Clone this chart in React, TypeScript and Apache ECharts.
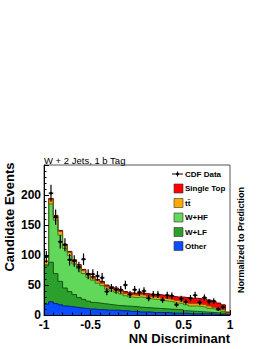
import React, { useEffect, useRef } from "react";
import * as echarts from "echarts";

// ---- binning ----
const X_MIN = -1;
const X_MAX = 1;
const N_BINS = 40;
const BIN_W = (X_MAX - X_MIN) / N_BINS;

// ---- process predictions per bin (stack order bottom -> top) ----
const other = [18, 22, 19, 17, 15, 14, 13, 12, 11, 10, 10, 9, 9, 8, 8, 8, 7, 7, 6, 6, 5, 5, 5, 4, 4, 4, 4, 3, 3, 3, 3, 2, 2, 2, 2, 2, 1.5, 1, 1, 0.5];
const wLF = [64, 66, 50, 39, 30, 25, 21, 17, 15, 13, 11, 11, 10, 10, 9, 8, 8.5, 8, 8.5, 8, 8, 7.5, 7, 7.5, 7, 6.5, 6, 6.5, 6, 5.5, 4, 4.5, 4, 3.5, 3, 2.5, 2.5, 2.5, 2, 0.5];
const wHF = [2, 97, 89, 77, 66, 60, 51, 48, 43, 40, 37, 33, 30, 25, 23, 22, 19.5, 17, 15.5, 15, 17, 16.5, 15, 14.5, 15, 13.5, 13, 12.5, 11, 10.5, 10, 8.5, 9, 8.5, 8, 6.5, 6, 4.5, 3, 1];
const ttbar = [5, 7, 6, 6, 5, 5, 5, 5, 5, 4, 4, 4, 4, 4, 4, 4, 4, 4, 4, 4, 4, 4, 4, 4, 4, 4, 4, 4, 4, 4, 4, 4, 4, 4, 4, 4, 3, 3, 3, 1];
const singleTop = [1, 2, 2, 2, 2, 2, 2, 2, 2, 2, 2, 2, 3, 3, 3, 3, 3, 3, 3, 3, 3, 3, 4, 4, 4, 5, 5, 5, 6, 7, 8, 9, 9, 9, 10, 10, 10, 9, 8, 2];

// ---- observed data per bin ----
const cdfData = [97, 203, 163, 122, 117, 92, 90, 80, 93, 68, 68, 65, 62, 39, 45, 42, 42, 50, 34, 42, 38, 40, 28, 34, 34, 25, 33, 32, 17, 27, 22, 28, 33, 21, 29, 22, 23, 10, 13, 0];

// ---- axis ticks ----
const xTicks = [-1, -0.5, 0, 0.5, 1];
const yTicks = [0, 50, 100, 150, 200, 250];

const processNames = ["Other", "W+LF", "W+HF", "t\u0074\u0304", "Single Top"];
const fills = ["#0a4cff", "#2ca02c", "#62d85a", "#ffaa00", "#ff0000"];
const outlines = ["#001f80", "#145214", "#2f7d2f", "#8a5200", "#600000"];
const layers = [other, wLF, wHF, ttbar, singleTop];

const FONT = "Liberation Sans, Arial, Helvetica, sans-serif";

function cumulativeLayers(ls: number[][]): number[][] {
  const out: number[][] = [];
  let run = new Array(N_BINS).fill(0);
  for (const l of ls) {
    run = run.map((v: number, i: number) => v + l[i]);
    out.push(run.slice());
  }
  return out;
}

function stepPoints(vals: number[]): number[][] {
  const pts = vals.map((v, i) => [X_MIN + i * BIN_W, v]);
  pts.push([X_MAX, vals[vals.length - 1]]);
  return pts;
}

export default function App() {
  const ref = useRef<HTMLDivElement>(null);

  useEffect(() => {
    if (!ref.current) return;
    const chart = echarts.init(ref.current, null, { renderer: "svg" });
    const cum = cumulativeLayers(layers);

    const areaSeries: any[] = [];
    for (let k = layers.length - 1; k >= 0; k--) {
      areaSeries.push({
        type: "line",
        name: processNames[k],
        data: stepPoints(cum[k]),
        step: "end",
        symbol: "none",
        showSymbol: false,
        silent: true,
        lineStyle: { color: outlines[k], width: 1 },
        areaStyle: { color: fills[k], opacity: 1 },
        itemStyle: { color: fills[k] },
      });
    }

    const dataPoints = cdfData
      .map((v, i) => [X_MIN + (i + 0.5) * BIN_W, v, Math.sqrt(v)])
      .filter((p) => p[1] > 0);

    const legendRowsY = [174, 188.5, 203, 217.5, 232, 246];
    const legendGraphics: any[] = [];
    legendGraphics.push(
      { type: "line", shape: { x1: 172, y1: legendRowsY[0], x2: 183, y2: legendRowsY[0] }, style: { stroke: "#000", lineWidth: 1 } },
      { type: "line", shape: { x1: 177.5, y1: legendRowsY[0] - 2.5, x2: 177.5, y2: legendRowsY[0] + 2.5 }, style: { stroke: "#000", lineWidth: 1 } },
      { type: "circle", shape: { cx: 177.5, cy: legendRowsY[0], r: 1.4 }, style: { fill: "#000" } },
      { type: "text", x: 185, y: legendRowsY[0], style: { text: "CDF Data", fontFamily: FONT, fontWeight: "bold", fontSize: 8, fill: "#000", verticalAlign: "middle", textVerticalAlign: "middle" } }
    );
    for (let j = 0; j < 5; j++) {
      const k = 4 - j;
      const yc = legendRowsY[j + 1];
      legendGraphics.push(
        { type: "rect", shape: { x: 174, y: yc - 4.5, width: 9, height: 9 }, style: { fill: fills[k], stroke: "#333", lineWidth: 0.6 } },
        { type: "text", x: 185, y: yc, style: { text: processNames[k], fontFamily: FONT, fontWeight: "bold", fontSize: 8, fill: "#000", verticalAlign: "middle", textVerticalAlign: "middle" } }
      );
    }

    const option: any = {
      animation: false,
      backgroundColor: "#fff",
      grid: {
        left: 44,
        right: 40,
        top: 165,
        bottom: 34,
        show: true,
        borderColor: "#555",
        borderWidth: 1,
        backgroundColor: "transparent",
        containLabel: false,
        outerBoundsMode: "none",
      },
      xAxis: {
        type: "value",
        min: xTicks[0],
        max: xTicks[xTicks.length - 1],
        interval: xTicks[1] - xTicks[0],
        axisLine: { show: true, onZero: false, lineStyle: { color: "#000", width: 1 } },
        axisTick: { show: true, inside: true, length: 5, lineStyle: { color: "#000", width: 1 } },
        minorTick: { show: true, splitNumber: 5, length: 2.5, lineStyle: { color: "#000", width: 1 } },
        splitLine: { show: false },
        axisLabel: {
          color: "#000",
          fontFamily: FONT,
          fontWeight: "bold",
          fontSize: 12,
          lineHeight: 12,
          margin: 4,
          showMinLabel: true,
          showMaxLabel: true,
          formatter: (v: number) => String(v),
        },
        z: 5,
      },
      yAxis: {
        type: "value",
        min: yTicks[0],
        max: yTicks[yTicks.length - 1],
        interval: yTicks[1] - yTicks[0],
        axisLine: { show: true, onZero: false, lineStyle: { color: "#000", width: 1 } },
        axisTick: { show: true, inside: true, length: 5, lineStyle: { color: "#000", width: 1 } },
        minorTick: { show: true, splitNumber: 5, length: 2.5, lineStyle: { color: "#000", width: 1 } },
        splitLine: { show: false },
        axisLabel: {
          color: "#000",
          fontFamily: FONT,
          fontWeight: "bold",
          fontSize: 12,
          lineHeight: 8,
          margin: 3,
          showMaxLabel: false,
        },
        z: 5,
      },
      series: [
        ...areaSeries,
        {
          type: "custom",
          name: "CDF Data",
          data: dataPoints,
          encode: { x: 0, y: 1 },
          z: 10,
          silent: true,
          renderItem: (_params: any, api: any) => {
            const x = api.value(0);
            const y = api.value(1);
            const e = api.value(2);
            const c = api.coord([x, y]);
            const t = api.coord([x, y + e]);
            const b = api.coord([x, y - e]);
            const l = api.coord([x - BIN_W / 2, y]);
            const r = api.coord([x + BIN_W / 2, y]);
            return {
              type: "group",
              children: [
                { type: "line", shape: { x1: t[0], y1: t[1], x2: b[0], y2: b[1] }, style: { stroke: "#000", lineWidth: 1.2 } },
                { type: "line", shape: { x1: l[0], y1: l[1], x2: r[0], y2: r[1] }, style: { stroke: "#000", lineWidth: 1.2 } },
                { type: "circle", shape: { cx: c[0], cy: c[1], r: 1.5 }, style: { fill: "#000" } },
              ],
            };
          },
        },
      ],
      graphic: [
        { type: "text", x: 44, y: 160, style: { text: "W + 2 Jets, 1 b Tag", fontFamily: FONT, fontSize: 9.5, fill: "#000", verticalAlign: "middle", textVerticalAlign: "middle" } },
        { type: "text", x: 9, y: 217, rotation: Math.PI / 2, style: { text: "Candidate Events", fontFamily: FONT, fontWeight: "bold", fontSize: 13, fill: "#000", align: "center", textAlign: "center", verticalAlign: "middle", textVerticalAlign: "middle" } },
        { type: "text", x: 230, y: 338, style: { text: "NN Discriminant", fontFamily: FONT, fontWeight: "bold", fontSize: 13, fill: "#000", align: "right", textAlign: "right", verticalAlign: "middle", textVerticalAlign: "middle" } },
        { type: "text", x: 241, y: 240, rotation: Math.PI / 2, style: { text: "Normalized to Prediction", fontFamily: FONT, fontWeight: "bold", fontSize: 9, fill: "#000", align: "center", textAlign: "center", verticalAlign: "middle", textVerticalAlign: "middle" } },
        ...legendGraphics,
      ],
    };

    chart.setOption(option);
    return () => chart.dispose();
  }, []);

  return <div ref={ref} style={{ position: "fixed", left: 0, top: 0, width: 270, height: 349 }} />;
}
